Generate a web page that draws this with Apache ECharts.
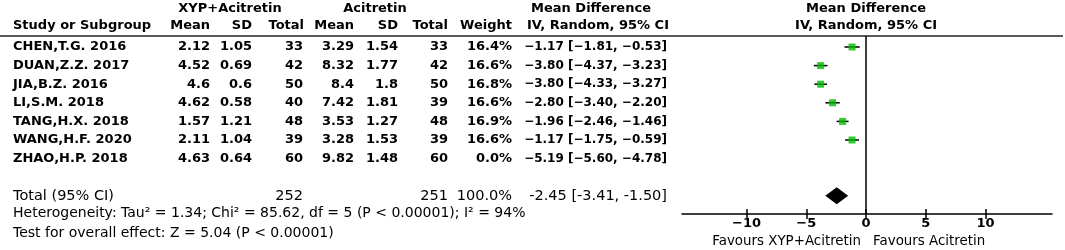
<!DOCTYPE html>
<html><head><meta charset="utf-8">
<script src="https://cdn.jsdelivr.net/npm/echarts@6/dist/echarts.min.js"></script>
<style>html,body{margin:0;padding:0;background:#fff}#c{width:1065px;height:250px}</style>
</head><body><div id="c"></div>
<script>
const studies = ["CHEN,T.G. 2016","DUAN,Z.Z. 2017","JIA,B.Z. 2016","LI,S.M. 2018","TANG,H.X. 2018","WANG,H.F. 2020","ZHAO,H.P. 2018"];
const expMean = ["2.12","4.52","4.6","4.62","1.57","2.11","4.63"];
const expSD = ["1.05","0.69","0.6","0.58","1.21","1.04","0.64"];
const expN = [33,42,50,40,48,39,60];
const ctlMean = ["3.29","8.32","8.4","7.42","3.53","3.28","9.82"];
const ctlSD = ["1.54","1.77","1.8","1.81","1.27","1.53","1.48"];
const ctlN = [33,42,50,39,48,39,60];
const weights = [16.4,16.6,16.8,16.6,16.9,16.6,0.0];
const md = [-1.17,-3.80,-3.80,-2.80,-1.96,-1.17,-5.19];
const ciLow = [-1.81,-4.37,-4.33,-3.40,-2.46,-1.75,-5.60];
const ciHigh = [-0.53,-3.23,-3.27,-2.20,-1.46,-0.59,-4.78];
const totalExpN = 252, totalCtlN = 251, totalWeight = "100.0%";
const pooled = [-2.45,-3.41,-1.50];
const heteroText = "Heterogeneity: Tau² = 1.34; Chi² = 85.62, df = 5 (P < 0.00001); I² = 94%";
const overallText = "Test for overall effect: Z = 5.04 (P < 0.00001)";
const tickValues = [-10,-5,0,5,10];
const favourLeft = "Favours XYP+Acitretin", favourRight = "Favours Acitretin";

const chart = echarts.init(document.getElementById('c'), null, {renderer:'canvas'});
const totalRow = studies.length + 1;
const fmt = v => v.toFixed(2).replace('-', '−');
const FB = 'bold 13px "DejaVu Sans"';
const FB12 = 'bold 12px "DejaVu Sans"';
const FR = '14px "DejaVu Sans"';
const FT = '14.5px "DejaVu Sans"';
const FF = '13.4px "DejaVu Sans"';

const ciData = [], sqData = [];
studies.forEach((s,i)=>{ if (weights[i] > 0) { ciData.push([ciLow[i], ciHigh[i], i]); sqData.push([md[i], i]); } });

chart.setOption({
  animation:false,
  grid:{left:682, width:370, top:36, height:178},
  xAxis:[{
    type:'value', min:-15.4, max:15.56, splitLine:{show:false},
    axisLine:{onZero:false, lineStyle:{color:'#000', width:1.5}},
    axisTick:{customValues:tickValues, length:5, lineStyle:{color:'#000', width:1.5}},
    axisLabel:{customValues:tickValues, margin:3, color:'#000', fontFamily:'DejaVu Sans', fontWeight:'bold', fontSize:13,
      formatter:v=>String(v).replace('-', '−')}
  },{
    type:'value', position:'bottom', offset:0, min:-15.4, max:15.56, splitLine:{show:false},
    axisLine:{show:false, onZero:false},
    axisTick:{inside:true, customValues:tickValues, length:5, lineStyle:{color:'#000', width:1.5}},
    axisLabel:{show:false}
  }],
  yAxis:{type:'value', inverse:true, min:-0.591, max:8.978, show:false},
  series:[
    {type:'custom', data:ciData, silent:true,
      renderItem:(p,api)=>{
        const a = api.coord([api.value(0), api.value(2)]), b = api.coord([api.value(1), api.value(2)]);
        return {type:'line', shape:{x1:a[0],y1:a[1],x2:b[0],y2:b[1]}, style:{stroke:'#000', lineWidth:1.5}};
      },
      markLine:{symbol:'none', silent:true, label:{show:false}, lineStyle:{color:'#000', width:1.5, type:'solid'}, data:[{xAxis:0}]}
    },
    {type:'scatter', data:sqData, symbol:'rect', symbolSize:7, itemStyle:{color:'#00bb00'}, silent:true},
    {type:'custom', data:[[pooled[1], pooled[0], pooled[2], totalRow]], silent:true,
      renderItem:(p,api)=>{
        const r = api.value(3);
        const l = api.coord([api.value(0), r]), c = api.coord([api.value(1), r]), h = api.coord([api.value(2), r]);
        const hh = 8.5;
        return {type:'polygon', shape:{points:[[l[0],l[1]],[c[0],c[1]-hh],[h[0],h[1]],[c[0],c[1]+hh]]}, style:{fill:'#000'}};
      }}
  ]
});

const rowY = i => chart.convertToPixel({yAxisIndex:0}, i);
const zeroX = chart.convertToPixel({xAxisIndex:0}, 0);
const g = [];
function t(text, x, y, align, font){ g.push({type:'text', silent:true, style:{text:String(text), x:x, y:y, align:align||'right', verticalAlign:'middle', font:font||FB, fill:'#000'}}); }

// header
t("XYP+Acitretin", 230, 9, 'center');
t("Acitretin", 375, 9, 'center');
t("Mean Difference", 591, 9, 'center');
t("Mean Difference", zeroX, 9, 'center');
const hy = 26;
t("Study or Subgroup", 13, hy, 'left');
t("Mean", 210, hy); t("SD", 252, hy); t("Total", 304, hy);
t("Mean", 354, hy); t("SD", 398, hy); t("Total", 448, hy);
t("Weight", 512, hy); t("IV, Random, 95% CI", 669, hy);
t("IV, Random, 95% CI", zeroX, hy, 'center');
g.push({type:'line', silent:true, shape:{x1:0,y1:36,x2:1063,y2:36}, style:{stroke:'#222', lineWidth:1.5}});

studies.forEach((s,i)=>{
  const y = rowY(i);
  t(s, 13, y, 'left');
  t(expMean[i], 210, y); t(expSD[i], 252, y); t(expN[i], 303, y);
  t(ctlMean[i], 354, y); t(ctlSD[i], 398, y); t(ctlN[i], 448, y);
  t(weights[i].toFixed(1) + '%', 512, y);
  t(fmt(md[i]) + ' [' + fmt(ciLow[i]) + ', ' + fmt(ciHigh[i]) + ']', 667, y, 'right', FB12);
});
const ty = rowY(totalRow);
t("Total (95% CI)", 13, ty, 'left', FT);
t(totalExpN, 303, ty, 'right', FT); t(totalCtlN, 448, ty, 'right', FT);
t(totalWeight, 512, ty, 'right', FT);
t(pooled[0].toFixed(2) + ' [' + pooled[1].toFixed(2) + ', ' + pooled[2].toFixed(2) + ']', 667, ty, 'right', FT);
t(heteroText, 13, 213, 'left', FR);
t(overallText, 13, 233, 'left', FR);
t(favourLeft, zeroX - 5, 242, 'right', FF);
t(favourRight, zeroX + 7, 242, 'left', FF);
chart.setOption({graphic:g});
</script></body></html>
